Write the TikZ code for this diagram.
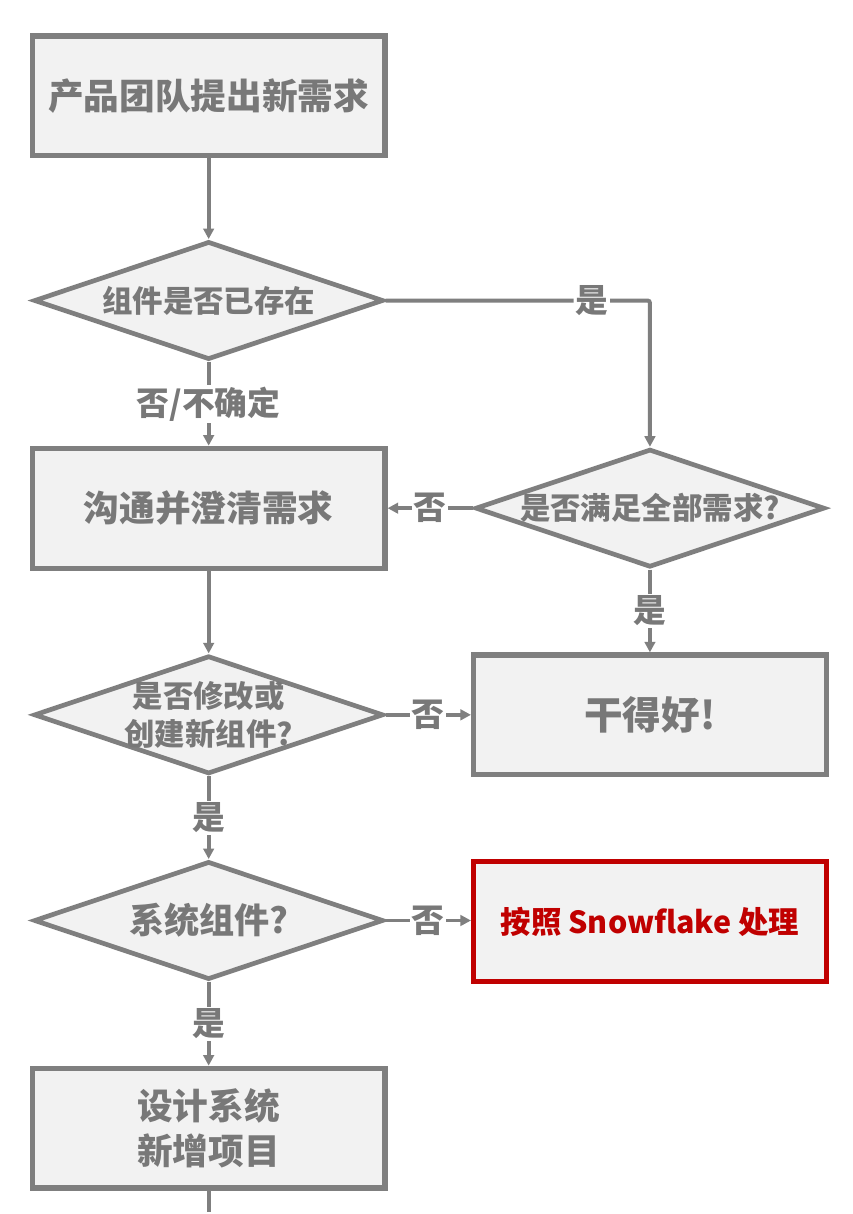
\documentclass[tikz,border=0pt]{standalone}
\usepackage{fontspec}
\newfontfamily\cjk{Noto Sans CJK SC}
\usetikzlibrary{arrows.meta,shapes.geometric}
\definecolor{flowgray}{HTML}{7F7F7F}
\definecolor{flowtext}{HTML}{787878}
\definecolor{flowfill}{HTML}{F2F2F2}
\definecolor{flowred}{HTML}{C00000}

\begin{document}
\begin{tikzpicture}[x=0.03cm, y=-0.03cm,
	proc/.style={draw=flowgray, fill=flowfill, line width=4.4pt,
		minimum width=10.6cm, minimum height=3.6cm, text=flowtext, align=center,
		font=\cjk\bfseries\fontsize{30.5pt}{38pt}\selectfont},
	dec/.style={diamond, draw=flowgray, fill=flowfill, line width=4pt, aspect=2.95,
		minimum width=10.5cm, minimum height=3.55cm, inner xsep=0pt, inner ysep=-0.25cm,
		text=flowtext, align=center,
		font=\cjk\bfseries\fontsize{26pt}{32pt}\selectfont},
	conn/.style={draw=flowgray, line width=3.4pt, -{Triangle[length=9pt,width=9pt]}},
	lbl/.style={fill=white, inner sep=1.5pt, text=flowtext,
		font=\cjk\bfseries\fontsize{28pt}{32pt}\selectfont}
]

% page area, same size as the original
\fill[white] (0,0) rectangle (854,1214);

% Boxes
\newcommand{\stepbox}[4]{
	\node[#3] (#1) at (#2) {#4}
	;
}
\stepbox  {request} {209,96}   {proc}  {产品团队提出新需求}
\stepbox  {exists}  {209,301}  {dec}   {组件是否已存在}
\stepbox  {clarify} {209,509}  {proc}  {沟通并澄清需求}
\stepbox  {meets}   {651,509}  {dec}   {是否满足全部需求?}
\stepbox  {modify}  {209,716}  {dec, inner ysep=-0.6cm} {是否修改或\\创建新组件?}
\stepbox  {good}    {651,716}  {proc, font=\cjk\bfseries\fontsize{33pt}{38pt}\selectfont} {干得好!}
\stepbox  {system}  {209,922}  {dec, font=\cjk\bfseries\fontsize{30pt}{34pt}\selectfont} {系统组件?}
\stepbox  {snow}    {651,923}  {proc, draw=flowred, text=flowred,
	font=\cjk\bfseries\fontsize{26pt}{30pt}\selectfont} {按照 Snowflake 处理}
\stepbox  {design}  {209,1130} {proc}  {设计系统\\新增项目}
\coordinate (exit) at (209,1214);

% Arrows
\newcommand{\flowarr}[3]{
	\draw[conn]
		(#1) -- node[lbl] {#3} (#2)
	;
}
\draw[conn] (request) -- (exists);
\draw[conn, rounded corners=2pt] (exists.east) -| node[lbl, pos=0.39] {是} (meets.north);
\flowarr  {exists}  {clarify}  {否/不确定}
\flowarr  {meets}   {clarify}  {否}
\flowarr  {meets}   {good}     {是}
\draw[conn] (clarify) -- (modify);
\flowarr  {modify}  {good}     {否}
\flowarr  {modify}  {system}   {是}
\draw[conn] (system.east) -- node[lbl] {否} (system.east -| snow.west);
\flowarr  {system}  {design}   {是}
\draw[draw=flowgray, line width=3.4pt] (design) -- (exit);
\end{tikzpicture}
\end{document}
